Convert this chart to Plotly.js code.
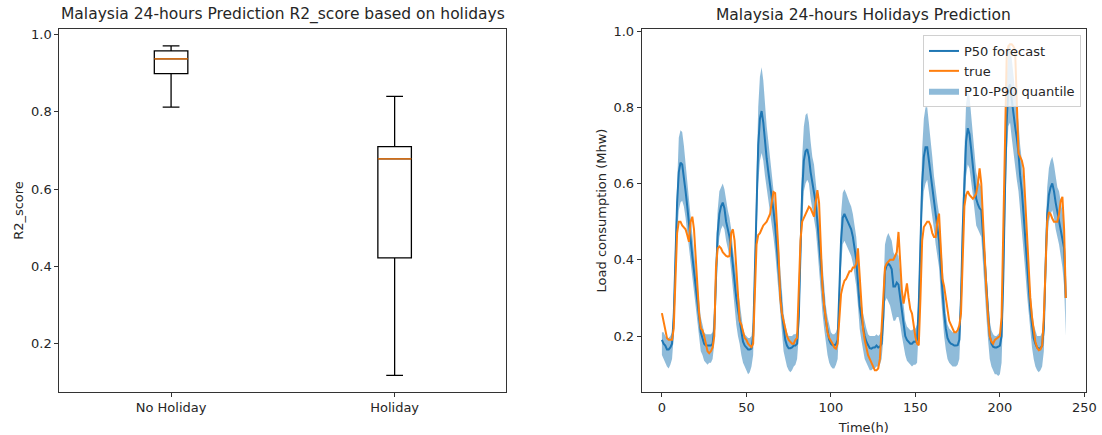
<!DOCTYPE html>
<html><head><meta charset="utf-8">
<script src="https://cdn.plot.ly/plotly-3.0.1.min.js"></script>
<style>html,body{margin:0;padding:0;background:#fff;} #chart{width:1102px;height:435px;}</style>
</head><body><div id="chart"></div>
<script>
// ---- Box plot data (left panel) ----
const boxCategories = ['No Holiday', 'Holiday'];
const boxPositions = [1, 2];
const boxQ1 = [0.899, 0.422];
const boxMedian = [0.937, 0.678];
const boxQ3 = [0.958, 0.710];
const boxLower = [0.812, 0.118];
const boxUpper = [0.971, 0.840];

// ---- Time series data (right panel) ----
const hours = Array.from({length: 240}, (_, i) => i);
const p50 = [
0.19,0.18,0.175,0.165,0.165,0.17,0.18,0.25,0.40,0.55,
0.63,0.655,0.65,0.62,0.58,0.54,0.49,0.45,0.41,0.37,
0.33,0.28,0.24,0.21,0.195,0.18,0.175,0.175,0.175,0.175,
0.18,0.22,0.35,0.47,0.52,0.54,0.55,0.535,0.50,0.48,
0.46,0.43,0.38,0.34,0.30,0.27,0.245,0.21,0.185,0.175,
0.17,0.165,0.165,0.167,0.20,0.35,0.55,0.70,0.77,0.79,
0.76,0.70,0.665,0.63,0.60,0.56,0.53,0.49,0.44,0.38,
0.32,0.26,0.22,0.19,0.175,0.168,0.168,0.17,0.175,0.175,
0.18,0.25,0.42,0.58,0.66,0.685,0.69,0.67,0.63,0.60,
0.58,0.55,0.50,0.44,0.38,0.33,0.28,0.24,0.21,0.19,
0.18,0.176,0.176,0.178,0.19,0.30,0.45,0.51,0.52,0.51,
0.50,0.49,0.48,0.46,0.43,0.40,0.34,0.28,0.25,0.22,
0.20,0.185,0.175,0.168,0.167,0.17,0.17,0.175,0.17,0.172,
0.18,0.25,0.37,0.385,0.39,0.385,0.375,0.33,0.33,0.34,
0.335,0.30,0.26,0.23,0.20,0.19,0.185,0.18,0.18,0.185,
0.185,0.19,0.28,0.45,0.60,0.67,0.695,0.695,0.66,0.62,
0.59,0.55,0.51,0.48,0.45,0.38,0.31,0.26,0.22,0.195,
0.185,0.18,0.178,0.175,0.175,0.176,0.19,0.30,0.48,0.62,
0.71,0.745,0.73,0.69,0.645,0.60,0.56,0.545,0.535,0.53,
0.46,0.38,0.32,0.25,0.20,0.18,0.172,0.17,0.17,0.172,
0.175,0.20,0.35,0.58,0.76,0.85,0.86,0.82,0.78,0.75,
0.72,0.68,0.62,0.58,0.52,0.45,0.39,0.33,0.27,0.23,
0.195,0.18,0.17,0.167,0.168,0.175,0.22,0.38,0.52,0.57,
0.59,0.60,0.58,0.55,0.525,0.51,0.48,0.46,0.43,0.30
];
const p90 = [
0.21,0.21,0.20,0.195,0.195,0.20,0.21,0.30,0.47,0.63,
0.72,0.74,0.735,0.70,0.65,0.60,0.55,0.51,0.47,0.42,
0.38,0.33,0.28,0.25,0.23,0.21,0.205,0.205,0.205,0.205,
0.21,0.27,0.42,0.53,0.58,0.59,0.60,0.585,0.55,0.53,
0.51,0.48,0.43,0.39,0.35,0.32,0.29,0.25,0.22,0.205,
0.20,0.195,0.195,0.20,0.24,0.42,0.64,0.80,0.88,0.905,
0.87,0.80,0.75,0.71,0.67,0.63,0.59,0.55,0.50,0.44,
0.38,0.31,0.26,0.23,0.21,0.20,0.20,0.20,0.205,0.205,
0.21,0.30,0.50,0.67,0.75,0.78,0.785,0.76,0.71,0.67,
0.65,0.61,0.56,0.50,0.44,0.38,0.33,0.28,0.25,0.225,
0.21,0.205,0.205,0.21,0.225,0.36,0.52,0.575,0.585,0.575,
0.56,0.55,0.54,0.52,0.49,0.46,0.40,0.33,0.29,0.26,
0.235,0.22,0.205,0.20,0.20,0.20,0.20,0.205,0.20,0.205,
0.215,0.31,0.44,0.46,0.47,0.46,0.45,0.42,0.41,0.42,
0.41,0.37,0.32,0.28,0.24,0.225,0.22,0.215,0.215,0.22,
0.22,0.23,0.34,0.53,0.69,0.77,0.80,0.80,0.76,0.71,
0.67,0.62,0.58,0.55,0.52,0.45,0.37,0.31,0.26,0.23,
0.22,0.215,0.21,0.21,0.21,0.21,0.23,0.36,0.56,0.71,
0.81,0.84,0.83,0.78,0.73,0.68,0.63,0.61,0.60,0.59,
0.52,0.44,0.37,0.30,0.24,0.215,0.205,0.20,0.20,0.205,
0.21,0.24,0.42,0.67,0.87,0.96,0.97,0.93,0.88,0.84,
0.80,0.76,0.70,0.66,0.60,0.52,0.45,0.39,0.32,0.27,
0.23,0.215,0.20,0.20,0.20,0.21,0.27,0.45,0.59,0.64,
0.66,0.67,0.65,0.62,0.59,0.58,0.55,0.53,0.50,0.37
];
const p10 = [
0.15,0.14,0.13,0.12,0.115,0.125,0.14,0.20,0.34,0.47,
0.53,0.55,0.555,0.54,0.51,0.47,0.43,0.39,0.35,0.31,
0.27,0.23,0.19,0.16,0.15,0.135,0.13,0.125,0.13,0.13,
0.14,0.18,0.29,0.41,0.46,0.48,0.49,0.48,0.45,0.43,
0.41,0.37,0.32,0.28,0.23,0.20,0.18,0.15,0.13,0.12,
0.11,0.10,0.105,0.12,0.15,0.28,0.46,0.60,0.66,0.68,
0.66,0.62,0.59,0.56,0.53,0.49,0.46,0.42,0.37,0.31,
0.25,0.20,0.16,0.14,0.12,0.11,0.105,0.11,0.12,0.125,
0.14,0.20,0.35,0.50,0.58,0.60,0.61,0.60,0.56,0.53,
0.51,0.48,0.43,0.37,0.31,0.26,0.22,0.18,0.15,0.13,
0.12,0.115,0.115,0.125,0.14,0.24,0.38,0.44,0.45,0.44,
0.43,0.42,0.41,0.39,0.36,0.33,0.28,0.22,0.19,0.16,
0.14,0.13,0.12,0.11,0.11,0.115,0.115,0.12,0.12,0.125,
0.14,0.19,0.29,0.30,0.29,0.28,0.26,0.24,0.24,0.25,
0.25,0.23,0.20,0.17,0.15,0.135,0.13,0.125,0.12,0.125,
0.125,0.13,0.22,0.38,0.52,0.58,0.60,0.61,0.58,0.55,
0.52,0.48,0.44,0.41,0.38,0.31,0.25,0.20,0.165,0.14,
0.13,0.125,0.12,0.12,0.12,0.125,0.14,0.24,0.41,0.54,
0.62,0.65,0.64,0.61,0.57,0.53,0.49,0.48,0.47,0.46,
0.39,0.31,0.25,0.19,0.14,0.12,0.11,0.10,0.10,0.095,
0.10,0.13,0.28,0.50,0.67,0.75,0.76,0.72,0.68,0.64,
0.61,0.58,0.53,0.49,0.43,0.37,0.31,0.26,0.21,0.17,
0.14,0.12,0.11,0.105,0.11,0.12,0.16,0.31,0.45,0.50,
0.52,0.53,0.51,0.48,0.46,0.44,0.41,0.38,0.33,0.20
];
const trueLoad = [
0.26,0.235,0.21,0.195,0.19,0.19,0.19,0.22,0.38,0.47,
0.50,0.50,0.49,0.485,0.48,0.465,0.447,0.50,0.513,0.48,
0.40,0.33,0.26,0.22,0.215,0.20,0.175,0.16,0.155,0.16,
0.17,0.20,0.38,0.43,0.435,0.43,0.42,0.415,0.41,0.408,
0.41,0.47,0.48,0.45,0.37,0.30,0.24,0.23,0.21,0.195,
0.19,0.18,0.175,0.171,0.18,0.30,0.44,0.465,0.47,0.48,
0.49,0.495,0.50,0.51,0.52,0.55,0.578,0.575,0.50,0.42,
0.30,0.26,0.24,0.22,0.20,0.19,0.185,0.18,0.18,0.19,
0.195,0.30,0.45,0.50,0.51,0.52,0.53,0.539,0.535,0.525,
0.513,0.55,0.583,0.55,0.42,0.33,0.28,0.24,0.21,0.195,
0.189,0.18,0.17,0.167,0.18,0.26,0.31,0.33,0.345,0.35,
0.36,0.37,0.37,0.38,0.38,0.39,0.43,0.36,0.26,0.22,
0.19,0.165,0.15,0.14,0.13,0.12,0.11,0.11,0.115,0.14,
0.24,0.30,0.38,0.39,0.395,0.40,0.40,0.40,0.41,0.42,
0.473,0.40,0.32,0.285,0.31,0.338,0.30,0.27,0.259,0.22,
0.198,0.18,0.176,0.30,0.45,0.486,0.495,0.50,0.50,0.49,
0.47,0.46,0.46,0.50,0.521,0.45,0.35,0.33,0.30,0.27,
0.24,0.23,0.22,0.21,0.21,0.215,0.228,0.26,0.40,0.54,
0.57,0.58,0.57,0.565,0.56,0.565,0.574,0.60,0.64,0.60,
0.50,0.40,0.32,0.25,0.20,0.185,0.18,0.19,0.193,0.195,
0.20,0.25,0.50,0.77,0.93,0.96,0.965,0.965,0.96,0.95,
0.80,0.68,0.67,0.66,0.64,0.55,0.45,0.36,0.30,0.25,
0.21,0.185,0.17,0.163,0.165,0.175,0.25,0.40,0.50,0.525,
0.52,0.508,0.50,0.50,0.50,0.52,0.555,0.565,0.48,0.30
];
const yTicks = [0.2, 0.4, 0.6, 0.8, 1.0];
const xTicks2 = [0, 50, 100, 150, 200, 250];

// ---- Layout constants (pixels) ----
const W = 1102, H = 435;
const FONT = 'DejaVu Sans, Verdana, sans-serif';
const boxWidth = 0.15;
const leftL = 59.3, leftR = 506.4, rightL = 641.7, rightR = 1086;
const plotTop = 29.3, plotBot = 391.7;
const yDom = [(H - plotBot) / H, (H - plotTop) / H];

const axisStyle = {
  showline: true, mirror: true, linecolor: '#333', linewidth: 1,
  ticks: 'outside', ticklen: 4, tickwidth: 1, tickcolor: '#333',
  showgrid: false, zeroline: false, fixedrange: true,
  tickfont: {family: FONT, size: 13, color: '#262626'}
};

const medX = [], medY = [];
boxPositions.forEach((p, i) => {
  medX.push(p - boxWidth / 2, p + boxWidth / 2, null);
  medY.push(boxMedian[i], boxMedian[i], null);
});

const traces = [
  {
    type: 'box', x: boxPositions, q1: boxQ1, median: boxMedian, q3: boxQ3,
    lowerfence: boxLower, upperfence: boxUpper,
    width: boxWidth, whiskerwidth: 0.5, boxpoints: false,
    line: {color: '#000', width: 1.3}, fillcolor: 'rgba(0,0,0,0)',
    xaxis: 'x', yaxis: 'y', showlegend: false, hoverinfo: 'skip', name: 'R2_score'
  },
  {
    type: 'scatter', mode: 'lines', x: medX, y: medY,
    line: {color: '#ff7f0e', width: 1.3}, xaxis: 'x', yaxis: 'y',
    showlegend: false, hoverinfo: 'skip'
  },
  {
    type: 'scatter', mode: 'lines', x: hours, y: p10,
    line: {width: 0, color: 'rgba(31,119,180,0)'}, xaxis: 'x2', yaxis: 'y2',
    showlegend: false, hoverinfo: 'skip'
  },
  {
    type: 'scatter', mode: 'lines', x: hours, y: p90, fill: 'tonexty',
    fillcolor: 'rgba(31,119,180,0.5)', line: {width: 0, color: 'rgba(31,119,180,0.5)'},
    xaxis: 'x2', yaxis: 'y2', name: 'P10-P90 quantile', legendrank: 3
  },
  {
    type: 'scatter', mode: 'lines', x: hours, y: p50,
    line: {color: '#1f77b4', width: 2}, xaxis: 'x2', yaxis: 'y2',
    name: 'P50 forecast', legendrank: 1
  },
  {
    type: 'scatter', mode: 'lines', x: hours, y: trueLoad,
    line: {color: '#ff7f0e', width: 2}, xaxis: 'x2', yaxis: 'y2',
    name: 'true', legendrank: 2
  }
];

const layout = {
  width: W, height: H,
  margin: {l: 0, r: 0, t: 0, b: 0},
  paper_bgcolor: '#fff', plot_bgcolor: '#fff',
  font: {family: FONT, size: 13, color: '#262626'},
  showlegend: true,
  xaxis: Object.assign({}, axisStyle, {
    domain: [leftL / W, leftR / W], range: [0.5, 2.5], anchor: 'y',
    tickmode: 'array', tickvals: boxPositions, ticktext: boxCategories
  }),
  yaxis: Object.assign({}, axisStyle, {
    domain: yDom, range: [0.0755, 1.0137], anchor: 'x',
    tickmode: 'array', tickvals: yTicks, tickformat: '.1f',
    title: {text: 'R2_score', font: {family: FONT, size: 13, color: '#262626'}}
  }),
  xaxis2: Object.assign({}, axisStyle, {
    domain: [rightL / W, rightR / W], range: [-11.95, 250.95], anchor: 'y2',
    tickmode: 'array', tickvals: xTicks2,
    title: {text: 'Time(h)', font: {family: FONT, size: 13, color: '#262626'}}
  }),
  yaxis2: Object.assign({}, axisStyle, {
    domain: yDom, range: [0.054, 1.0045], anchor: 'x2',
    tickmode: 'array', tickvals: yTicks, tickformat: '.1f',
    title: {text: 'Load consumption (Mhw)', font: {family: FONT, size: 13, color: '#262626'}}
  }),
  legend: {
    x: 1081 / W, xanchor: 'right', y: (H - 35) / H, yanchor: 'top',
    traceorder: 'normal',
    bgcolor: 'rgba(255,255,255,0.8)', bordercolor: '#d0d0d0', borderwidth: 1,
    font: {family: FONT, size: 13, color: '#262626'}, tracegroupgap: 0
  },
  annotations: [
    {text: 'Malaysia 24-hours Prediction R2_score based on holidays', xref: 'paper', yref: 'paper',
     x: (leftL + leftR) / 2 / W, y: (H - 15) / H, xanchor: 'center', yanchor: 'middle', showarrow: false,
     font: {family: FONT, size: 15.5, color: '#262626'}},
    {text: 'Malaysia 24-hours Holidays Prediction', xref: 'paper', yref: 'paper',
     x: (rightL + rightR) / 2 / W, y: (H - 15) / H, xanchor: 'center', yanchor: 'middle', showarrow: false,
     font: {family: FONT, size: 15.5, color: '#262626'}}
  ]
};

Plotly.newPlot('chart', traces, layout, {staticPlot: true, displayModeBar: false});
</script>
</body></html>
